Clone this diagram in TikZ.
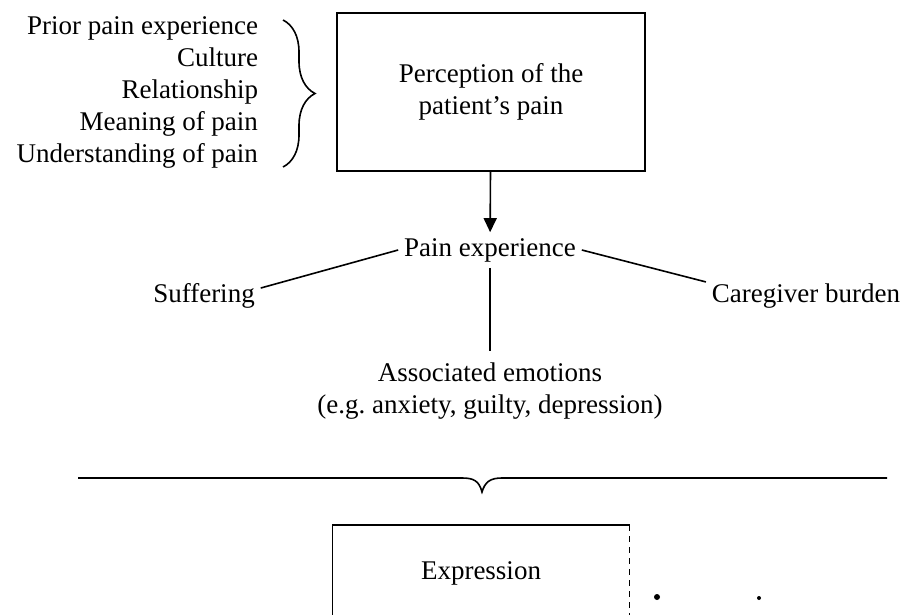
\documentclass[tikz,border=0pt]{standalone}
\usepackage{fontspec}
\setmainfont{Liberation Serif}
\usetikzlibrary{arrows.meta,decorations.pathreplacing}
\begin{document}
\begin{tikzpicture}[x=0.5pt,y=-0.5pt,inner sep=3pt,outer sep=0pt,line width=0.8pt,
font=\fontsize{13.5}{16}\selectfont,
box/.style={draw,rectangle,minimum width=154pt,minimum height=79pt,align=center},
brc/.style={decorate,decoration={brace,amplitude=#1}}]
\useasboundingbox (0,0) rectangle (910,615);
\draw (258,92) node[anchor=east,align=right,inner sep=0pt] (factors) {Prior pain experience\\Culture\\Relationship\\Meaning of pain\\Understanding of pain};
\draw[brc=16pt] (283,20) -- (283,167);
\draw (491,92) node[box] (percep) {Perception of the\\patient's pain};
\draw (490,250) node (painexp) {Pain experience};
\draw (204,296) node (suffer) {Suffering};
\draw (806,296) node (care) {Caregiver burden};
\draw (490,391) node[align=center,inner sep=6pt] (assoc) {Associated emotions\\(e.g.\ anxiety, guilty, depression)};
\draw[-{Triangle[length=7pt,width=6.5pt]}] (percep) -- (painexp);
\draw (suffer.8) -- (painexp.west);
\draw (painexp.east) -- (care.172);
\draw (painexp) -- (assoc);
% lower part
\coordinate (brl) at (78,478);
\coordinate (brr) at (887,478);
\coordinate (brtip) at (482,492);
\draw (brl) -- (462,478) .. controls (474,478) and (479,481) .. (brtip)
  .. controls (485,482) and (490,478) .. (502,478) -- (brr);
\draw (481,573) node[minimum width=148.5pt,minimum height=48pt] (expr) {Expression};
\draw (expr.south west) -- (expr.north west) -- (expr.north east);
\draw[line width=0.5pt,dash pattern=on 3pt off 2.5pt] (expr.north east) -- (expr.south east);
\fill (657,597) circle (1.5pt);
\fill (759,598) circle (1pt);
\end{tikzpicture}
\end{document}
